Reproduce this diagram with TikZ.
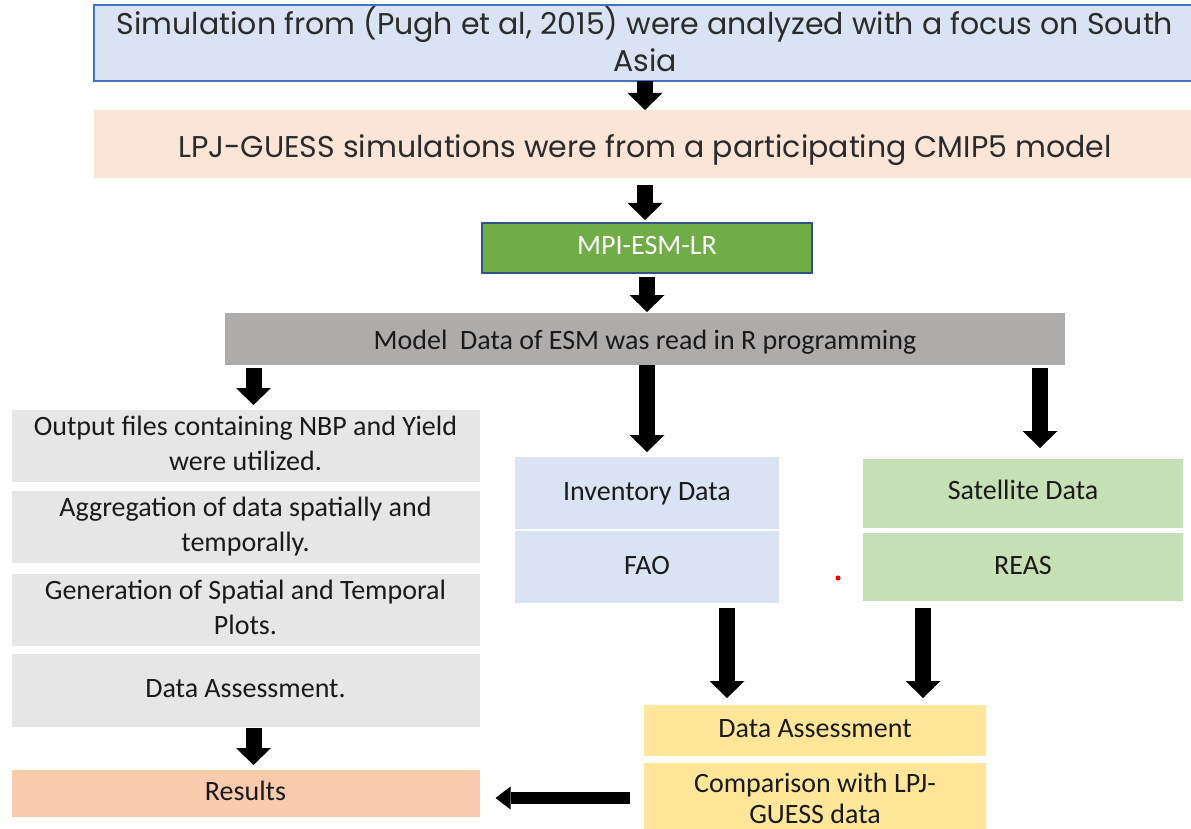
\documentclass[tikz,border=0pt]{standalone}
\usepackage{fontspec}
\setmainfont{Carlito}
\newfontfamily\gothicf{Poppins}
\usetikzlibrary{arrows.meta,calc}
\definecolor{cblue}{HTML}{DAE3F3}
\definecolor{cblueb}{HTML}{4472C4}
\definecolor{cpeach}{HTML}{FBE5D6}
\definecolor{cgreen}{HTML}{70AD47}
\definecolor{cgreenb}{HTML}{2F528F}
\definecolor{cgray}{HTML}{AEABAB}
\definecolor{clgray}{HTML}{E7E6E6}
\definecolor{cres}{HTML}{F8CBAD}
\definecolor{csat}{HTML}{C5E0B4}
\definecolor{cyel}{HTML}{FFE699}
\definecolor{ctxt}{HTML}{1A1A1A}
\definecolor{gtxt}{HTML}{2B2B2B}
\newcommand\calfb[1]{\fontsize{28}{#1}\selectfont}
\begin{document}
\begin{tikzpicture}[x=1pt,y=-1pt,
  every node/.style={inner sep=0pt, outer sep=0pt},
  box/.style={rectangle, align=center, font={\calfb{35}}, text=ctxt},
  gbox/.style={rectangle, align=center, font={\gothicf\fontsize{30}{37}\selectfont}, text=gtxt},
  varrow/.style={line width=16pt, -{Triangle[width=35pt,length=17pt,line width=0pt]}, black},
  harrow/.style={line width=12pt, -{Triangle[width=23pt,length=15pt,line width=0pt]}, black}
]
\useasboundingbox (0,0) rectangle (1191,829);

% top boxes
\node[gbox, fill=cblue, draw=cblueb, line width=1.3pt, minimum width=1102pt, minimum height=68pt] (title) at (645,43)
  {\rule{0pt}{30pt}Simulation from (Pugh et al, 2015) were analyzed with a focus on South\\\rule[-9pt]{0pt}{9pt}Asia};
\node[gbox, fill=cpeach, minimum width=1102pt, minimum height=68pt, text height=28pt, text depth=0pt] (lpj) at (645,144)
  {LPJ-GUESS simulations were from a participating CMIP5 model};
\node[box, fill=cgreen, draw=cgreenb, line width=1.3pt, minimum width=330pt, minimum height=50pt, text=white] (green) at (647,248)
  {\strut MPI-ESM-LR};
\node[box, fill=cgray, minimum width=840pt, minimum height=52pt, font={\calfb{50}}] (gray) at (645,339)
  {\strut Model\ \ Data of ESM was read in R programming};

% left stack
\node[box, fill=clgray, minimum width=468pt, minimum height=72pt] (l1) at (245.5,446)
  {\strut Output files containing NBP and Yield\\\strut were utilized.};
\node[box, fill=clgray, minimum width=468pt, minimum height=72pt] (l2) at (245.5,527)
  {\strut Aggregation of data spatially and\\\strut temporally.};
\node[box, fill=clgray, minimum width=468pt, minimum height=72pt] (l3) at (245.5,610)
  {\strut Generation of Spatial and Temporal\\\strut Plots.};
\node[box, fill=clgray, minimum width=468pt, minimum height=73pt] (l4) at (245.5,690.5)
  {\strut Data Assessment.};
\node[box, fill=cres, minimum width=468pt, minimum height=47pt] (res) at (245.5,793.5)
  {\strut Results};

% middle and right stacks
\node[box, fill=cblue, minimum width=264pt, minimum height=72pt] (inv) at (647,493)
  {\strut Inventory Data};
\node[box, fill=cblue, minimum width=264pt, minimum height=72pt] (fao) at (647,567)
  {\strut FAO};
\node[box, fill=csat, minimum width=320pt, minimum height=69pt, font={\calfb{28}}] (sat) at (1023,493.5)
  {\strut Satellite Data};
\node[box, fill=csat, minimum width=320pt, minimum height=68pt] (reas) at (1023,567)
  {\strut REAS};
\node[box, fill=cyel, minimum width=342pt, minimum height=51pt] (da) at (815,730.5)
  {\strut Data Assessment};
\node[box, fill=cyel, minimum width=342pt, minimum height=78pt, font={\calfb{31}}] (cmp) at (815,802)
  {\strut Comparison with LPJ-\\\strut GUESS data};

\node[circle, fill=red, minimum size=5pt] (dot) at (838,578) {};

% arrows
\draw[varrow] (title.south) -- (lpj.north);
\draw[varrow, shorten <=7pt, shorten >=3pt] (lpj.south) -- (lpj.south |- green.north);
\draw[varrow, shorten <=4pt, shorten >=1pt] (green.south) -- (green.south |- gray.north);
\draw[varrow, shorten <=3pt, shorten >=5pt] ([xshift=8pt]l1.north |- gray.south) -- ([xshift=8pt]l1.north);
\draw[varrow, shorten >=5pt] (inv.north |- gray.south) -- (inv.north);
\draw[varrow, shorten <=3pt, shorten >=11pt] ([xshift=17pt]sat.north |- gray.south) -- ([xshift=17pt]sat.north);
\draw[varrow, shorten <=5pt, shorten >=7pt] ([xshift=80pt]fao.south) -- ([xshift=80pt]fao.south |- da.north);
\draw[varrow, shorten <=7pt, shorten >=7pt] ([xshift=-100pt]reas.south) -- ([xshift=-100pt]reas.south |- da.north);
\draw[varrow, shorten <=1pt, shorten >=5pt] ([xshift=8pt]l4.south) -- ([xshift=8pt]l4.south |- res.north);
\draw[harrow, shorten <=14pt, shorten >=16pt] ([yshift=4pt]cmp.west) -- ([yshift=4pt]cmp.west -| res.east);
\end{tikzpicture}
\end{document}
